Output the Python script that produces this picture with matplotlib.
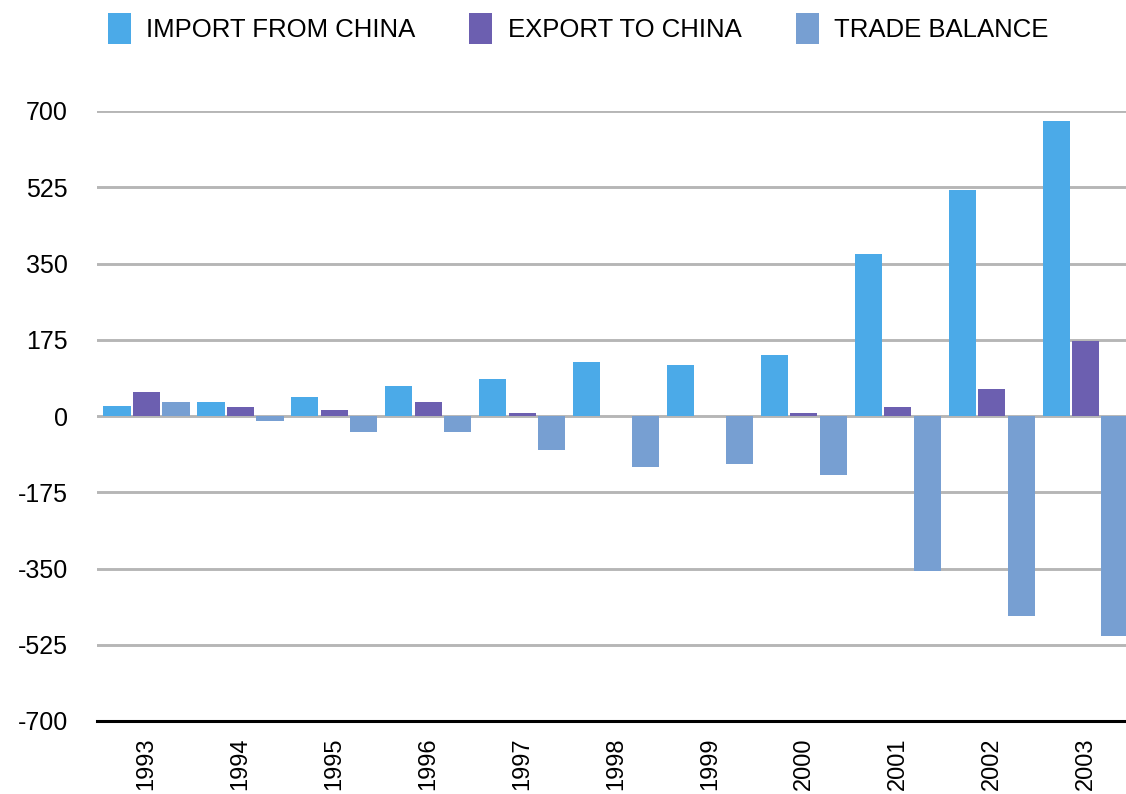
import matplotlib
matplotlib.use("Agg")
import matplotlib.pyplot as plt
import numpy as np

years = ["1993", "1994", "1995", "1996", "1997", "1998", "1999", "2000", "2001", "2002", "2003"]
import_from_china = [24, 31, 43, 68, 86, 123, 116, 141, 372, 518, 678]
export_to_china = [56, 20, 13, 31, 6, 0, 0, 6, 20, 61, 171]
trade_balance = [31, -12, -37, -37, -78, -117, -110, -136, -355, -458, -506]
yticks = [-700, -525, -350, -175, 0, 175, 350, 525, 700]

c_imp = "#4BAAE8"
c_exp = "#6C5FB0"
c_bal = "#779FD2"

plt.rcParams['font.family'] = ['Liberation Sans', 'DejaVu Sans']

fig = plt.figure(figsize=(11.26, 7.94), dpi=100)
ax = fig.add_axes([97/1126, 73/794, 1 - 97/1126, (721-111)/794])

x = np.arange(len(years))
step = 0.314
w = 0.29
b1 = ax.bar(x - step, import_from_china, w, color=c_imp, label="IMPORT FROM CHINA", zorder=3)
b2 = ax.bar(x, export_to_china, w, color=c_exp, label="EXPORT TO CHINA", zorder=3)
b3 = ax.bar(x + step, trade_balance, w, color=c_bal, label="TRADE BALANCE", zorder=3)

ax.set_xlim(-0.527, 10.43)
ax.set_ylim(-700, 700)
ax.set_yticks(yticks)
ax.set_yticklabels([str(v) for v in yticks], fontsize=18)
ax.set_xticks(x)
ax.set_xticklabels(years, rotation=90, fontsize=17)
ax.tick_params(axis='both', length=0)
ax.tick_params(axis='y', pad=21)
ax.tick_params(axis='x', pad=12)
for v in yticks[1:]:
    ax.axhline(v, color="#b6b6b6", lw=2.1, zorder=1)
for s in ["top", "right", "left"]:
    ax.spines[s].set_visible(False)
ax.spines["bottom"].set_color("black")
ax.spines["bottom"].set_linewidth(2.2)
ax.spines["bottom"].set_zorder(4)

fig.legend(handles=[b1, b2, b3], loc="upper center", bbox_to_anchor=(578/1126, 1.016),
           ncol=3, frameon=False, fontsize=18.5, handlelength=0.9, handleheight=1.5,
           handletextpad=0.6, columnspacing=2.1, borderaxespad=0.6)

fig.savefig("out.png", dpi=100)
